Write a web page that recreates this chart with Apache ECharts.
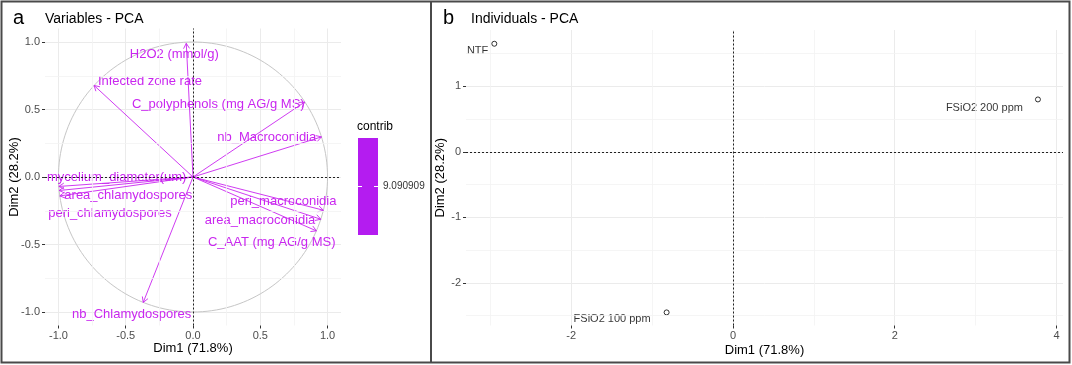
<!DOCTYPE html>
<html>
<head>
<meta charset="utf-8">
<script src="https://cdn.jsdelivr.net/npm/echarts@6/dist/echarts.min.js"></script>
<style>
  html, body { margin: 0; padding: 0; background: #fff; }
  #chart { width: 1072px; height: 365px; }
</style>
</head>
<body>
<div id="chart"></div>
<script>
// variables - PCA (coordinates on Dim1 / Dim2)
const varNames = ['H2O2 (mmol/g)', 'Infected zone rate', 'C_polyphenols (mg AG/g MS)', 'nb_Macroconidia',
  'mycelium_diameter(um)', 'area_chlamydospores', 'peri_chlamydospores',
  'peri_macroconidia', 'area_macroconidia', 'C_AAT (mg AG/g MS)', 'nb_Chlamydospores'];
const varDim1 = [-0.05, -0.735, 0.83, 0.955, -0.997, -0.99, -0.995, 0.969, 0.95, 0.917, -0.37];
const varDim2 = [0.99, 0.678, 0.555, 0.297, -0.07, -0.14, -0.10, -0.246, -0.313, -0.399, -0.929];
// where the (repelled) labels sit, in the same units
const varLabelDim1 = [-0.139, -0.32, 0.188, 0.548, -0.567, -0.481, -0.617, 0.671, 0.498, 0.585, -0.456];
const varLabelDim2 = [0.907, 0.708, 0.535, 0.292, -0.002, -0.139, -0.27, -0.183, -0.325, -0.481, -1.019];
const contribValue = 9.090909;

// individuals - PCA
const indNames = ['NTF', 'FSiO2 200 ppm', 'FSiO2 100 ppm'];
const indDim1 = [-2.95, 3.77, -0.82];
const indDim2 = [1.65, 0.80, -2.45];
const indLabelNudge = [[3, 7], [12, 9], [13, 7]]; // [gap left of point, shift down] px

// axis ticks
const ticksA = [-1, -0.5, 0, 0.5, 1];
const minorA = [-0.75, -0.25, 0.25, 0.75];
const ticksBx = [-2, 0, 2, 4];
const minorBx = [-3, -1, 1, 3];
const ticksBy = [-2, -1, 0, 1];
const minorBy = [-2.5, -1.5, -0.5, 0.5, 1.5];

const FONT = 'Liberation Sans, Arial, sans-serif';
const VARCOL = '#c926ef';
const chart = echarts.init(document.getElementById('chart'));

// circle guide for the correlation plot
const circle = [];
for (let a = 0; a <= 360; a += 2) {
  circle.push([Math.cos(a * Math.PI / 180), Math.sin(a * Math.PI / 180)]);
}

const axisCommon = (ticks, fmt, name, gap) => ({
  type: 'value',
  name: name,
  nameLocation: 'middle',
  nameGap: gap,
  nameMoveOverlap: false,
  nameTextStyle: { color: '#000', fontSize: 13, fontFamily: FONT },
  axisLine: { show: false, onZero: false },
  axisTick: { show: true, length: 3, customValues: ticks, lineStyle: { color: '#333' } },
  axisLabel: { customValues: ticks, formatter: fmt, color: '#4d4d4d', fontSize: 11, fontFamily: FONT, margin: 5 },
  splitLine: { show: true, lineStyle: { color: '#ebebeb', width: 1 } }
});

const minorLines = (xs, ys, xi, yi) => ({
  type: 'line', xAxisIndex: xi, yAxisIndex: yi, data: [], silent: true, z: 0,
  markLine: {
    silent: true, symbol: 'none', label: { show: false }, animation: false,
    lineStyle: { color: '#f3f3f3', width: 0.8, type: 'solid' },
    data: xs.map(v => ({ xAxis: v })).concat(ys.map(v => ({ yAxis: v })))
  }
});
const zeroLines = (xi, yi) => ({
  type: 'line', xAxisIndex: xi, yAxisIndex: yi, data: [], silent: true, z: 1,
  markLine: {
    silent: true, symbol: 'none', label: { show: false }, animation: false,
    lineStyle: { color: '#222', width: 1, type: [2, 2] },
    data: [{ xAxis: 0 }, { yAxis: 0 }]
  }
});

const fmt1 = v => v.toFixed(1);

const option = {
  backgroundColor: '#fff',
  animation: false,
  title: [
    { text: 'a', left: 8, top: 3, textStyle: { fontSize: 20, fontWeight: 'normal', color: '#000', fontFamily: FONT } },
    { text: 'Variables - PCA', left: 40, top: 7, textStyle: { fontSize: 14, fontWeight: 'normal', color: '#000', fontFamily: FONT } },
    { text: 'b', left: 438, top: 3, textStyle: { fontSize: 20, fontWeight: 'normal', color: '#000', fontFamily: FONT } },
    { text: 'Individuals - PCA', left: 466, top: 7, textStyle: { fontSize: 14, fontWeight: 'normal', color: '#000', fontFamily: FONT } }
  ],
  grid: [
    { left: 45, top: 28.5, width: 296, height: 297 },
    { left: 466, top: 30, width: 597, height: 295.5 }
  ],
  xAxis: [
    Object.assign(axisCommon(ticksA, fmt1, 'Dim1 (71.8%)', 16), { gridIndex: 0, min: -1.1, max: 1.1 }),
    Object.assign(axisCommon(ticksBx, v => String(v), 'Dim1 (71.8%)', 18), { gridIndex: 1, min: -3.3, max: 4.08 })
  ],
  yAxis: [
    Object.assign(axisCommon(ticksA, fmt1, 'Dim2 (28.2%)', 24), { gridIndex: 0, min: -1.1, max: 1.1 }),
    Object.assign(axisCommon(ticksBy, v => String(v), 'Dim2 (28.2%)', 19), { gridIndex: 1, min: -2.65, max: 1.86 })
  ],
  series: [
    minorLines(minorA, minorA, 0, 0),
    minorLines(minorBx, minorBy, 1, 1),
    zeroLines(0, 0),
    zeroLines(1, 1),
    {
      type: 'line', xAxisIndex: 0, yAxisIndex: 0, data: circle, showSymbol: false, silent: true, z: 2,
      lineStyle: { color: '#c6c6c6', width: 1 }
    },
    {
      // arrows from the origin
      type: 'custom', xAxisIndex: 0, yAxisIndex: 0, z: 3, silent: true,
      data: varDim1.map((x, i) => [x, varDim2[i]]),
      renderItem: (params, api) => {
        const p0 = api.coord([0, 0]);
        const p1 = api.coord([api.value(0), api.value(1)]);
        const ang = Math.atan2(p1[1] - p0[1], p1[0] - p0[0]);
        const L = 6, w = Math.PI / 6;
        const a = [p1[0] - L * Math.cos(ang - w), p1[1] - L * Math.sin(ang - w)];
        const b = [p1[0] - L * Math.cos(ang + w), p1[1] - L * Math.sin(ang + w)];
        const st = { stroke: VARCOL, lineWidth: 0.9, fill: null };
        return {
          type: 'group',
          children: [
            { type: 'line', shape: { x1: p0[0], y1: p0[1], x2: p1[0], y2: p1[1] }, style: st },
            { type: 'polyline', shape: { points: [a, p1, b] }, style: st }
          ]
        };
      }
    },
    {
      // variable names
      type: 'custom', xAxisIndex: 0, yAxisIndex: 0, z: 4, silent: true,
      data: varLabelDim1.map((x, i) => [x, varLabelDim2[i], i]),
      renderItem: (params, api) => {
        const p = api.coord([api.value(0), api.value(1)]);
        return {
          type: 'text', x: p[0], y: p[1],
          style: {
            text: varNames[api.value(2)], fill: VARCOL,
            font: '13px ' + FONT, align: 'center', verticalAlign: 'middle'
          }
        };
      }
    },
    {
      type: 'scatter', xAxisIndex: 1, yAxisIndex: 1, symbol: 'circle', symbolSize: 5, z: 4, silent: true,
      itemStyle: { color: '#fff', borderColor: '#000', borderWidth: 1 },
      data: indNames.map((n, i) => ({
        name: n, value: [indDim1[i], indDim2[i]],
        label: { distance: indLabelNudge[i][0], offset: [0, indLabelNudge[i][1]] }
      })),
      label: {
        show: true, position: 'left', formatter: p => p.name,
        color: '#000', fontSize: 11, fontFamily: FONT,
        textBorderWidth: 0, textBorderColor: 'transparent'
      }
    }
  ],
  graphic: [
    { type: 'rect', shape: { x: 1.5, y: 1.5, width: 1068, height: 361 }, style: { fill: null, stroke: '#4a4a4a', lineWidth: 2 }, silent: true },
    { type: 'line', shape: { x1: 431, y1: 1.5, x2: 431, y2: 362.5 }, style: { stroke: '#4a4a4a', lineWidth: 2 }, silent: true },
    // contrib legend
    { type: 'text', left: 357, top: 121, style: { text: 'contrib', fill: '#000', fontSize: 12, fontFamily: FONT }, silent: true },
    { type: 'rect', shape: { x: 358, y: 138, width: 20, height: 97 }, style: { fill: '#b41cf0' }, silent: true },
    { type: 'line', shape: { x1: 358, y1: 186.5, x2: 362, y2: 186.5 }, style: { stroke: '#fff', lineWidth: 1 }, silent: true },
    { type: 'line', shape: { x1: 374, y1: 186.5, x2: 378, y2: 186.5 }, style: { stroke: '#fff', lineWidth: 1 }, silent: true },
    { type: 'text', left: 383, top: 181, style: { text: contribValue.toFixed(6), fill: '#333', fontSize: 10, fontFamily: FONT }, silent: true }
  ]
};
chart.setOption(option);
</script>
</body>
</html>
